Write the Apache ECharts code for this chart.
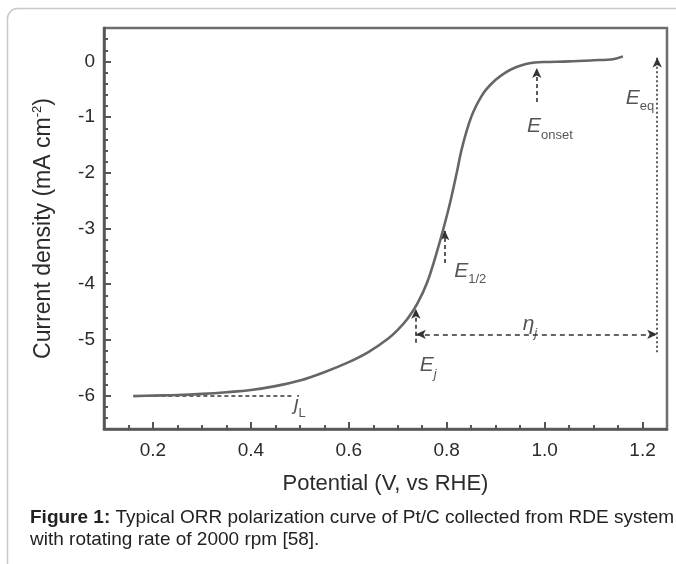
<!DOCTYPE html>
<html><head><meta charset="utf-8">
<script src="https://cdn.jsdelivr.net/npm/echarts@6/dist/echarts.min.js"></script>
<style>html,body{margin:0;padding:0;background:#fff}#c{width:676px;height:564px}</style>
</head><body><div id="c"></div>
<script>
// ---- data ----
const potential = [0.16,0.20,0.25,0.30,0.35,0.40,0.45,0.50,0.55,0.60,0.64,0.68,0.70,0.72,0.74,0.76,0.78,0.80,0.81,0.82,0.83,0.84,0.85,0.86,0.87,0.88,0.90,0.92,0.94,0.96,0.98,1.00,1.05,1.10,1.14,1.16];
const currentDensity = [-6.01,-6.00,-5.99,-5.97,-5.94,-5.90,-5.83,-5.73,-5.58,-5.40,-5.22,-4.98,-4.82,-4.62,-4.35,-3.97,-3.42,-2.78,-2.42,-2.02,-1.60,-1.27,-1.00,-0.80,-0.64,-0.51,-0.33,-0.20,-0.11,-0.05,-0.02,-0.01,0.00,0.02,0.04,0.09];
const xMajorTicks = [0.2,0.4,0.6,0.8,1.0,1.2];
const xMinorTicks = [0.15,0.25,0.3,0.35,0.45,0.5,0.55,0.65,0.7,0.75,0.85,0.9,0.95,1.05,1.1,1.15];
const yMajorTicks = [-6,-5,-4,-3,-2,-1,0];
const yMinorTicks = [-6.4,-6.2,-5.8,-5.6,-5.4,-5.2,-4.8,-4.6,-4.4,-4.2,-3.8,-3.6,-3.4,-3.2,-2.8,-2.6,-2.4,-2.2,-1.8,-1.6,-1.4,-1.2,-0.8,-0.6,-0.4,-0.2,0.2,0.4];
// annotation geometry in data units
const jLLine = [[0.16,-6.0],[0.486,-6.0]];
const EjArrow = [[0.737,-5.05],[0.737,-4.44]];
const EhalfArrow = [[0.796,-3.62],[0.796,-3.03]];
const EonsetArrow = [[0.984,-0.73],[0.984,-0.12]];
const EeqArrow = [[1.23,-5.22],[1.23,0.07]];
const etaArrow = [[0.737,-4.90],[1.23,-4.90]];
const annotationLabels = [
  [0.50,-6.16,'jL'],
  [0.762,-5.46,'Ej'],
  [0.848,-3.77,'Ehalf'],
  [0.970,-4.73,'eta'],
  [1.011,-1.17,'Eonset'],
  [1.195,-0.66,'Eeq']
];
const xName = 'Potential (V, vs RHE)';
const captionBold = 'Figure 1:';
const captionRest1 = ' Typical ORR polarization curve of Pt/C collected from RDE system';
const captionLine2 = 'with rotating rate of 2000 rpm [58].';

// ---- chart ----
const FONT = 'Liberation Sans, Arial, sans-serif';
const TXT = '#2b2b2b';
const AX = '#555';
const chart = echarts.init(document.getElementById('c'), null, {renderer:'canvas'});

const labelFmt = {
  jL: '{ji|j}{s|L}',
  Ej: '{E|E}{si|j}',
  Ehalf: '{E|E}{s|1/2}',
  eta: '{E|η}{si|j}',
  Eonset: '{E|E}{s|onset}',
  Eeq: '{E|E}{s|eq}'
};
const rich = {
  E: {fontFamily: FONT, fontStyle:'italic', fontSize: 21, color: TXT, lineHeight: 22, verticalAlign:'top'},
  ji: {fontFamily: FONT, fontStyle:'italic', fontSize: 21, color: TXT, lineHeight: 22, verticalAlign:'top'},
  s: {fontFamily: FONT, fontSize: 13, color: TXT, lineHeight: 13, padding:[13,0,0,0], verticalAlign:'top'},
  si: {fontFamily: FONT, fontStyle:'italic', fontSize: 13, color: TXT, lineHeight: 13, padding:[13,0,0,0], verticalAlign:'top'}
};

function arrowLine(pts, startSym, endSym, type){
  return {
    symbol:[startSym, endSym], symbolSize:[7,10], silent:true, animation:false,
    lineStyle:{color:'#333', width:1.6, type:type},
    itemStyle:{color:'#222'},
    label:{show:false},
    data:[[{coord:pts[0]},{coord:pts[1]}]]
  };
}

const option = {
  backgroundColor:'#fff',
  animation:false,
  grid:{left:104, top:28, width:563, height:401, show:true, borderColor:'#6e6e6e', borderWidth:2.5, backgroundColor:'transparent'},
  xAxis:[{
    type:'value', min:0.1, max:1.25,
    axisLine:{show:true, onZero:false, lineStyle:{color:AX, width:2.5}},
    axisTick:{show:true, inside:true, length:7, customValues:xMajorTicks, lineStyle:{color:AX, width:2}},
    axisLabel:{show:true, customValues:xMajorTicks, formatter:v=>v.toFixed(1), fontFamily:FONT, fontSize:19, color:TXT, margin:12},
    splitLine:{show:false},
    name:xName, nameLocation:'middle', nameGap:44,
    nameTextStyle:{fontFamily:FONT, fontSize:22, color:TXT}
  },{
    type:'value', min:0.1, max:1.25, position:'bottom',
    axisLine:{show:false, onZero:false},
    axisTick:{show:true, inside:true, length:4, customValues:xMinorTicks, lineStyle:{color:AX, width:2}},
    axisLabel:{show:false}, splitLine:{show:false}
  }],
  yAxis:[{
    type:'value', min:-6.6, max:0.6,
    axisLine:{show:true, onZero:false, lineStyle:{color:AX, width:2.5}},
    axisTick:{show:true, inside:true, length:7, customValues:yMajorTicks, lineStyle:{color:AX, width:2}},
    axisLabel:{show:true, customValues:yMajorTicks, formatter:v=>String(v), fontFamily:FONT, fontSize:19, color:TXT, margin:9},
    splitLine:{show:false},
    name:'Current density (mA cm{sup|-2})', nameLocation:'middle', nameGap:48, nameRotate:90,
    nameTextStyle:{fontFamily:FONT, fontSize:23, color:TXT, verticalAlign:'bottom',
      rich:{sup:{fontFamily:FONT, fontSize:13, color:TXT, padding:[0,0,12,0], verticalAlign:'bottom'}}}
  },{
    type:'value', min:-6.6, max:0.6, position:'left',
    axisLine:{show:false, onZero:false},
    axisTick:{show:true, inside:true, length:4, customValues:yMinorTicks, lineStyle:{color:AX, width:2}},
    axisLabel:{show:false}, splitLine:{show:false}
  }],
  series:[
    {type:'line', xAxisIndex:0, yAxisIndex:0, data:potential.map((v,i)=>[v,currentDensity[i]]),
     showSymbol:false, smooth:0.35, lineStyle:{color:'#666', width:2.6}, z:5},
    {type:'line', xAxisIndex:0, yAxisIndex:0, data:[], markLine:arrowLine(jLLine,'none','none',[4,3])},
    {type:'line', xAxisIndex:0, yAxisIndex:0, data:[], markLine:arrowLine(EjArrow,'none','arrow',[4,3])},
    {type:'line', xAxisIndex:0, yAxisIndex:0, data:[], markLine:arrowLine(EhalfArrow,'none','arrow',[4,3])},
    {type:'line', xAxisIndex:0, yAxisIndex:0, data:[], markLine:arrowLine(EonsetArrow,'none','arrow',[4,3])},
    {type:'line', xAxisIndex:0, yAxisIndex:0, data:[], markLine:arrowLine(EeqArrow,'none','arrow',[2,2.5])},
    {type:'line', xAxisIndex:0, yAxisIndex:0, data:[], markLine:arrowLine(etaArrow,'arrow','arrow',[5,4])},
    {type:'scatter', xAxisIndex:0, yAxisIndex:0, symbolSize:0, silent:true, data:annotationLabels,
     label:{show:true, position:'inside', formatter:p=>labelFmt[p.data[2]], rich:rich}}
  ],
  graphic:[
    {type:'rect', shape:{x:7.5, y:8.5, width:720, height:620, r:10}, style:{fill:'none', stroke:'#c9c9c9', lineWidth:1.5}, silent:true, z:-10},
    {type:'text', left:30, top:508, style:{
      text:'{b|'+captionBold+'}{n|'+captionRest1+'}',
      rich:{b:{fontFamily:FONT, fontWeight:'bold', fontSize:19, fill:'#222'}, n:{fontFamily:FONT, fontSize:19, fill:'#222'}}
    }},
    {type:'text', left:30, top:530, style:{text:captionLine2, fontFamily:FONT, fontSize:19, fill:'#222'}}
  ]
};
chart.setOption(option);
</script>
</body></html>
